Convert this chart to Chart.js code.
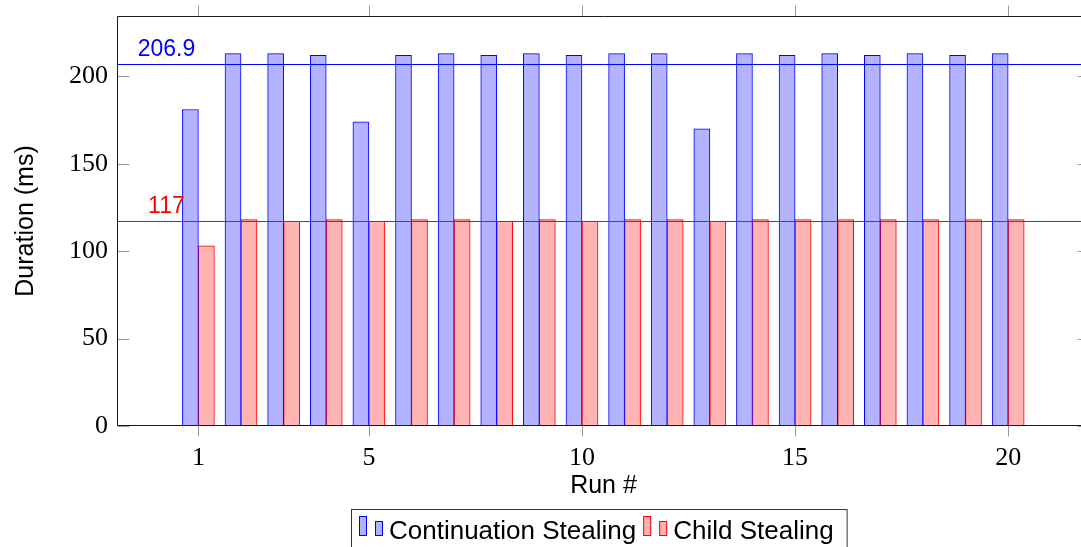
<!DOCTYPE html>
<html>
<head>
<meta charset="utf-8">
<script src="https://cdn.jsdelivr.net/npm/chart.js@4/dist/chart.umd.min.js"></script>
<style>
  html, body { margin: 0; padding: 0; overflow: hidden; background: #fff; }
  canvas { display: block; }
</style>
</head>
<body>
<canvas id="chart" width="1100" height="547"></canvas>
<script>
// Run numbers and measured durations (ms)
const runs = [1, 2, 3, 4, 5, 6, 7, 8, 9, 10, 11, 12, 13, 14, 15, 16, 17, 18, 19, 20];
const continuationStealing = [181, 213, 213, 212, 174, 212, 213, 212, 213, 212, 213, 213, 170, 213, 212, 213, 212, 213, 212, 213];
const childStealing = [103, 118, 117, 118, 117, 118, 118, 117, 118, 117, 118, 118, 117, 118, 118, 118, 118, 118, 118, 118];
const seriesNames = ['Continuation Stealing', 'Child Stealing'];

// Mean duration of each series, drawn as horizontal reference lines
const meanValues = [206.9, 117];
const meanLabels = ['206.9', '117'];

const xTickValues = [1, 5, 10, 15, 20];
const yTickValues = [0, 50, 100, 150, 200];
const xAxisTitle = 'Run #';
const yAxisTitle = 'Duration (ms)';

const strokeColors = ['#0000ff', '#ff0000'];
const fillColors = ['rgb(179,179,255)', 'rgb(255,179,179)'];

const SANS = '"Liberation Sans", Arial, sans-serif';
const SERIF = '"Liberation Serif", "Times New Roman", serif';

const decorations = {
  id: 'decorations',
  afterDatasetsDraw(chart) {
    const { ctx, chartArea: a, scales: { x, y } } = chart;
    ctx.save();
    ctx.beginPath();
    ctx.rect(a.left, a.top, a.right - a.left, a.bottom - a.top);
    ctx.clip();
    meanValues.forEach((v, i) => {
      const py = Math.round(y.getPixelForValue(v)) + 0.5;
      ctx.strokeStyle = strokeColors[i];
      ctx.lineWidth = 1;
      ctx.beginPath();
      ctx.moveTo(a.left, py);
      ctx.lineTo(a.right, py);
      ctx.stroke();
      ctx.fillStyle = strokeColors[i];
      ctx.font = '23px ' + SANS;
      ctx.textAlign = 'center';
      ctx.textBaseline = 'alphabetic';
      ctx.fillText(meanLabels[i], x.getPixelForValue(0.25), py - 9);
    });
    ctx.restore();
  },
  afterDraw(chart) {
    const { ctx, chartArea: a, scales: { x, y } } = chart;
    ctx.save();
    const L = a.left + 0.5, R = a.right - 0.5, T = a.top + 0.5, B = a.bottom - 0.5;

    // tick marks: outward on the horizontal axes, inward on the vertical ones
    ctx.strokeStyle = '#999';
    ctx.lineWidth = 1;
    ctx.beginPath();
    xTickValues.forEach(v => {
      const px = Math.round(x.getPixelForValue(v)) + 0.5;
      ctx.moveTo(px, B); ctx.lineTo(px, B + 11);
      ctx.moveTo(px, T); ctx.lineTo(px, T - 11);
    });
    yTickValues.forEach(v => {
      const py = Math.round(y.getPixelForValue(v)) + 0.5;
      ctx.moveTo(L, py); ctx.lineTo(L + 12, py);
      ctx.moveTo(R, py); ctx.lineTo(R - 12, py);
    });
    ctx.stroke();

    // plot frame
    ctx.strokeStyle = '#1a1a1a';
    ctx.beginPath();
    ctx.rect(L, T, R - L, B - T);
    ctx.stroke();

    // axis titles
    ctx.fillStyle = '#000';
    ctx.font = '25px ' + SANS;
    ctx.textAlign = 'center';
    ctx.textBaseline = 'alphabetic';
    ctx.fillText(xAxisTitle, (a.left + a.right) / 2, 493);
    ctx.save();
    ctx.translate(33, (a.top + a.bottom) / 2);
    ctx.rotate(-Math.PI / 2);
    ctx.fillText(yAxisTitle, 0, 0);
    ctx.restore();

    // legend
    ctx.font = '26px ' + SANS;
    ctx.textAlign = 'left';
    const boxLeft = 351, boxTop = 509, baseline = 539;
    let cx = boxLeft + 8;
    chart.data.datasets.forEach((ds, i) => {
      ctx.lineWidth = 1;
      ctx.fillStyle = fillColors[i];
      ctx.strokeStyle = strokeColors[i];
      ctx.fillRect(cx, 516, 8, 20);
      ctx.strokeRect(cx + 0.5, 516.5, 7, 19);
      ctx.fillRect(cx + 16, 521, 8, 15);
      ctx.strokeRect(cx + 16.5, 521.5, 7, 14);
      cx += 30;
      ctx.fillStyle = '#000';
      ctx.fillText(ds.label, cx, baseline);
      cx += ctx.measureText(ds.label).width + 7;
    });
    const boxRight = cx + 6;
    ctx.strokeStyle = '#333';
    ctx.lineWidth = 1;
    ctx.strokeRect(boxLeft + 0.5, boxTop + 0.5, boxRight - boxLeft, 60);
    ctx.restore();
  }
};

const toPoints = vals => runs.map((r, i) => ({ x: r, y: vals[i] }));

new Chart(document.getElementById('chart'), {
  type: 'bar',
  data: {
    datasets: [continuationStealing, childStealing].map((vals, i) => ({
      label: seriesNames[i],
      data: toPoints(vals),
      backgroundColor: fillColors[i],
      borderColor: strokeColors[i],
      borderWidth: 1,
      borderSkipped: false,
      barThickness: 16
    }))
  },
  options: {
    responsive: false,
    animation: false,
    devicePixelRatio: 1,
    layout: { padding: { left: 0, top: 16, right: 10, bottom: 61 } },
    plugins: { legend: { display: false }, tooltip: { enabled: false } },
    scales: {
      x: {
        type: 'linear',
        min: -0.91,
        max: 21.92,
        offset: false,
        grid: { display: false, drawTicks: false },
        border: { display: false },
        ticks: { font: { family: SERIF, size: 26 }, color: '#000', padding: 17, maxRotation: 0, autoSkip: false },
        afterBuildTicks: s => { s.ticks = xTickValues.map(v => ({ value: v })); },
        afterFit: s => { s.height = 60; s.paddingLeft = 0; s.paddingRight = 0; }
      },
      y: {
        min: 0,
        max: 234.5,
        grid: { display: false, drawTicks: false },
        border: { display: false },
        ticks: { font: { family: SERIF, size: 26 }, color: '#000', padding: 9 },
        afterBuildTicks: s => { s.ticks = yTickValues.map(v => ({ value: v })); },
        afterFit: s => { s.width = 117; s.paddingTop = 0; s.paddingBottom = 0; }
      }
    }
  },
  plugins: [decorations]
});
</script>
</body>
</html>
